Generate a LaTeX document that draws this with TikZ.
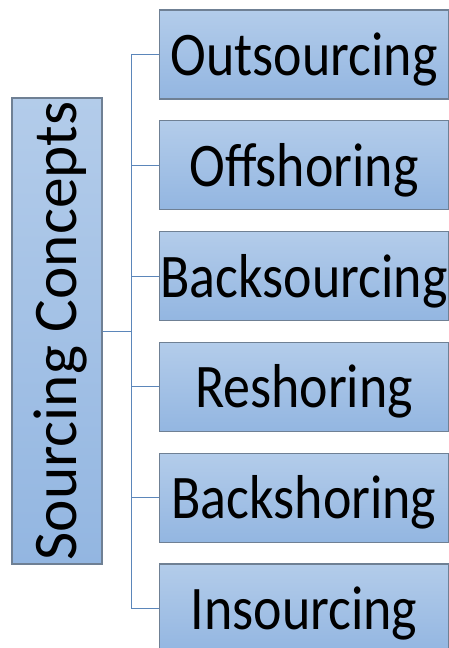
\documentclass[tikz,border=0pt]{standalone}
\usepackage{fontspec}
\usepackage{graphicx}
\setmainfont{Carlito}
\definecolor{boxtop}{HTML}{B3CCEA}
\definecolor{boxbot}{HTML}{93B6E1}
\definecolor{boxline}{HTML}{6F8094}
\definecolor{connline}{HTML}{5B86BA}
\tikzset{
  conceptbox/.style={draw=boxline, line width=1.2pt, top color=boxtop, bottom color=boxbot,
    minimum width=289pt, minimum height=89pt, inner sep=0pt, text height=42pt, text depth=0pt,
    font=\fontsize{62}{70}\selectfont},
  rootbox/.style={draw=boxline, line width=1.2pt, top color=boxtop, bottom color=boxbot,
    minimum width=90pt, minimum height=466pt, inner sep=0pt,
    font=\fontsize{62}{70}\selectfont},
  conn/.style={draw=connline, line width=1pt}
}
\newcommand{\sq}[1]{\makebox[0pt]{\scalebox{0.87}[1]{#1}}}
\begin{document}
\begin{tikzpicture}[x=1pt,y=-1pt]
\clip (0,0) rectangle (449,648);
\fill[white] (0,0) rectangle (449,648);
\node[rootbox] (src) at (57,331) {\rotatebox{90}{\makebox[0pt]{\raisebox{0pt}[38pt][0pt]{\scalebox{0.99}[1]{Sourcing Concepts}}}}};
\node[conceptbox] (b1) at (304,54.5) {\sq{Outsourcing}};
\node[conceptbox] (b2) at (304,165.3) {\sq{Offshoring}};
\node[conceptbox] (b3) at (304,276.1) {\sq{Backsourcing}};
\node[conceptbox] (b4) at (304,386.9) {\sq{Reshoring}};
\node[conceptbox] (b5) at (304,497.7) {\sq{Backshoring}};
\node[conceptbox] (b6) at (304,608.5) {\sq{Insourcing}};
\coordinate (spine) at (131,0);
\foreach \b in {b1,b2,b3,b4,b5,b6}{
  \draw[conn] (src.east) -- (src.east -| spine) |- (\b.west);
}
\end{tikzpicture}
\end{document}
